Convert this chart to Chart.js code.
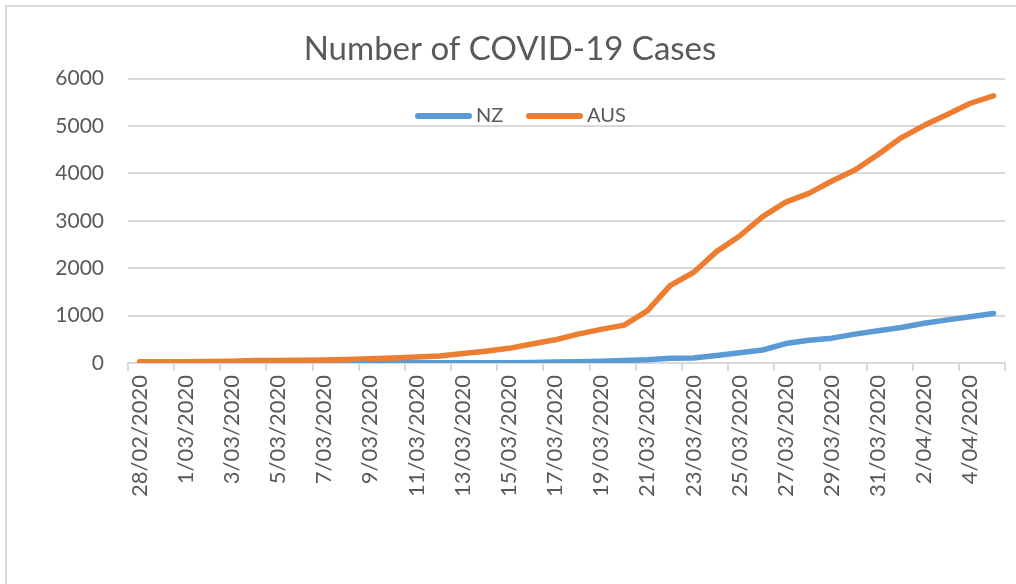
<!DOCTYPE html>
<html>
<head>
<meta charset="utf-8">
<script src="https://cdn.jsdelivr.net/npm/chart.js@4.4.1/dist/chart.umd.min.js"></script>
<style>
  html, body { margin: 0; padding: 0; background: #ffffff; overflow: hidden; }
  #frame { position: absolute; left: 5px; top: 5px; width: 1100px; height: 700px;
           border-left: 2px solid #d9d9d9; border-top: 2px solid #d9d9d9; }
  #wrap { position: absolute; left: 0; top: 0; width: 1016px; height: 584px; }
  #legend { position: absolute; top: 102px; left: 0; width: 1016px; height: 24px;
            font-family: Lato, sans-serif; font-size: 20px; color: #595959; }
  .item { position: absolute; top: 0; height: 24px; line-height: 24px; white-space: nowrap; }
  .swatch { display: inline-block; width: 57px; height: 6px; border-radius: 3px;
            vertical-align: middle; margin-right: 4px; position: relative; top: -1px; }
</style>
</head>
<body>
<div id="frame"></div>
<div id="wrap"><canvas id="c"></canvas></div>
<div id="legend"></div>
<script>
const categories = [
  "28/02/2020","29/02/2020","1/03/2020","2/03/2020","3/03/2020","4/03/2020","5/03/2020",
  "6/03/2020","7/03/2020","8/03/2020","9/03/2020","10/03/2020","11/03/2020","12/03/2020",
  "13/03/2020","14/03/2020","15/03/2020","16/03/2020","17/03/2020","18/03/2020","19/03/2020",
  "20/03/2020","21/03/2020","22/03/2020","23/03/2020","24/03/2020","25/03/2020","26/03/2020",
  "27/03/2020","28/03/2020","29/03/2020","30/03/2020","31/03/2020","1/04/2020","2/04/2020",
  "3/04/2020","4/04/2020","5/04/2020"
];
const nzCases = [1, 1, 2, 2, 2, 3, 4, 5, 5, 5, 5, 5, 5, 5, 6, 8, 8, 12, 20, 28, 39, 52, 70, 102, 105,
  160, 215, 275, 410, 480, 525, 610, 680, 750, 840, 910, 975, 1045];
const ausCases = [25, 25, 27, 33, 39, 52, 55, 60, 63, 76, 91, 107, 128, 150, 200, 250, 310, 400, 490,
  610, 710, 800, 1100, 1640, 1910, 2350, 2680, 3090, 3395, 3580, 3840, 4070, 4400, 4750, 5015,
  5245, 5480, 5635];
const yTicks = [0, 1000, 2000, 3000, 4000, 5000, 6000];
const seriesNames = ["NZ", "AUS"];
const seriesColors = ["#5B9BD5", "#ED7D31"];

const ctx = document.getElementById('c');
const chart = new Chart(ctx, {
  type: 'line',
  data: {
    labels: categories,
    datasets: [
      { label: seriesNames[0], data: nzCases, borderColor: seriesColors[0], backgroundColor: seriesColors[0],
        borderWidth: 5.5, pointRadius: 0, tension: 0, borderCapStyle: 'round', borderJoinStyle: 'round', order: 1 },
      { label: seriesNames[1], data: ausCases, borderColor: seriesColors[1], backgroundColor: seriesColors[1],
        borderWidth: 5.5, pointRadius: 0, tension: 0, borderCapStyle: 'round', borderJoinStyle: 'round', order: 0 }
    ]
  },
  options: {
    responsive: true,
    maintainAspectRatio: false,
    animation: false,
    layout: { padding: { left: 15, right: 11, top: 30, bottom: 83 } },
    plugins: {
      legend: { display: false },
      tooltip: { enabled: false },
      title: {
        display: true,
        text: 'Number of COVID-19 Cases',
        color: '#595959',
        font: { family: 'Lato', size: 33, weight: 'normal' },
        padding: { top: 0, bottom: 9 }
      }
    },
    scales: {
      y: {
        min: 0, max: 6000,
        afterBuildTicks: (axis) => { axis.ticks = yTicks.map(v => ({ value: v })); },
        afterFit: (axis) => { axis.width = 113; },
        ticks: { color: '#595959', font: { family: 'Lato', size: 21 }, padding: 24,
                 callback: (v) => String(v) },
        grid: { color: '#d9d9d9', lineWidth: 2, drawTicks: false },
        border: { display: false }
      },
      x: {
        offset: true,
        afterFit: (axis) => { axis.paddingRight = 0; axis.paddingLeft = 0; },
        ticks: {
          autoSkip: false, maxRotation: 90, minRotation: 90,
          color: '#595959', font: { family: 'Lato', size: 22 }, padding: 4,
          callback: function(value, index) { return index % 2 === 0 ? this.getLabelForValue(value) : ''; }
        },
        grid: {
          offset: true, drawOnChartArea: false, drawTicks: true, tickLength: 8, lineWidth: 2,
          color: (c) => (c.index === undefined || c.index % 2 === 0) ? '#d9d9d9' : 'rgba(0,0,0,0)'
        },
        border: { display: true, color: '#d9d9d9', width: 2 }
      }
    }
  }
});

// Legend (inside plot area, like the reference)
const legend = document.getElementById('legend');
const legendLefts = [415, 526];
seriesNames.forEach((name, i) => {
  const item = document.createElement('div');
  item.className = 'item';
  item.style.left = legendLefts[i] + 'px';
  const sw = document.createElement('span');
  sw.className = 'swatch';
  sw.style.background = seriesColors[i];
  item.appendChild(sw);
  item.appendChild(document.createTextNode(name));
  legend.appendChild(item);
});
</script>
</body>
</html>
